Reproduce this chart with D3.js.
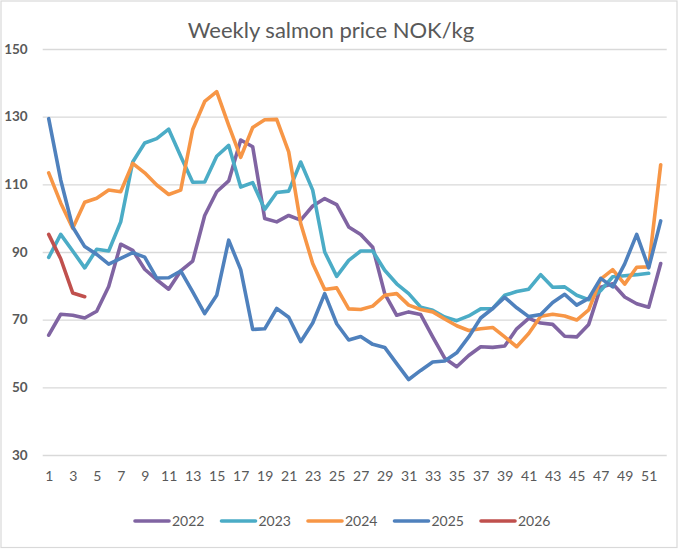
<!DOCTYPE html>
<html>
<head>
<meta charset="utf-8">
<script src="https://cdn.jsdelivr.net/npm/d3@7"></script>
<style>
  html, body { margin: 0; padding: 0; background: #fff; }
  svg { display: block; }
</style>
</head>
<body>
<svg id="chart" width="680" height="550"></svg>
<script>
// ---- Data ----
const title = "Weekly salmon price NOK/kg";
const weeks = [1,2,3,4,5,6,7,8,9,10,11,12,13,14,15,16,17,18,19,20,21,22,23,24,25,26,
               27,28,29,30,31,32,33,34,35,36,37,38,39,40,41,42,43,44,45,46,47,48,49,50,51,52];
const xTickLabels = [1,3,5,7,9,11,13,15,17,19,21,23,25,27,29,31,33,35,37,39,41,43,45,47,49,51];
const yTickLabels = [30,50,70,90,110,130,150];
const seriesNames = ["2022","2023","2024","2025","2026"];
const seriesColors = ["#8064A2","#4BACC6","#F79646","#4F81BD","#C0504D"];

const s2022 = [65.4,71.6,71.3,70.5,72.5,79.8,92.3,90.5,84.9,81.8,79.0,84.4,87.3,100.8,107.8,111.0,
               123.1,121.1,99.9,98.9,100.8,99.4,103.6,105.8,104.0,97.4,95.2,91.4,77.7,71.3,72.3,71.5,
               64.9,58.6,56.1,59.4,62.0,61.8,62.2,67.3,70.4,69.0,68.6,65.1,64.9,68.6,79.6,80.6,76.7,
               74.7,73.7,86.6];
const s2023 = [88.4,95.2,90.3,85.3,90.8,90.3,98.9,116.6,122.2,123.5,126.3,118.3,110.6,110.7,118.3,121.5,
               109.2,110.5,102.6,107.6,108.0,116.6,108.3,90.0,82.8,87.5,90.3,90.3,84.6,80.6,77.7,73.7,
               72.8,70.8,69.7,71.1,73.2,73.3,77.2,78.3,79.0,83.3,79.6,79.7,77.2,75.9,78.6,82.7,83.0,
               83.3,83.7];
const s2024 = [113.4,104.5,97.0,104.7,105.9,108.3,107.8,116.2,113.4,109.8,107.0,108.3,126.2,134.5,137.4,127.4,
               118.0,126.8,129.1,129.2,119.6,98.4,86.6,78.9,79.4,73.2,73.0,74.0,77.2,77.7,74.3,73.0,
               72.3,70.2,68.2,66.8,67.3,67.7,64.9,62.0,65.9,71.0,71.6,71.1,69.9,72.9,82.0,84.8,80.5,
               85.5,85.6,115.8];
const s2025 = [129.4,111.3,97.4,91.6,89.3,86.4,88.1,89.8,88.5,82.3,82.4,84.4,78.2,71.8,77.2,93.5,
               84.8,67.1,67.3,73.3,70.7,63.5,69.0,77.7,68.8,64.0,65.0,62.7,61.8,57.0,52.3,55.0,
               57.5,57.8,60.2,64.9,70.5,73.3,76.6,73.5,70.9,71.5,75.1,77.5,74.3,76.3,82.2,79.7,86.5,
               95.2,85.3,99.2];
const s2026 = [95.2,88.0,77.9,76.8];

const seriesValues = [s2022, s2023, s2024, s2025, s2026];

// ---- Layout ----
const svg = d3.select("#chart");
const W = 680, H = 550;
const plot = { left: 42.7, right: 666.7, top: 49, bottom: 455 };
const font = "Lato, 'Open Sans', 'DejaVu Sans', sans-serif";
const textColor = "#595959";

// outer border
svg.append("rect")
  .attr("x", 1).attr("y", 1)
  .attr("width", 676).attr("height", 546.5)
  .attr("fill", "#fff")
  .attr("stroke", "#d9d9d9")
  .attr("stroke-width", 1.2);

const x = d3.scalePoint().domain(weeks).range([plot.left, plot.right]).padding(0.5);
const y = d3.scaleLinear().domain([30, 150]).range([plot.bottom, plot.top]);

// gridlines + y labels
const yAxis = d3.axisLeft(y)
  .tickValues(yTickLabels)
  .tickSize(-(plot.right - plot.left))
  .tickPadding(15)
  .tickFormat(d3.format("d"));
const yg = svg.append("g")
  .attr("transform", `translate(${plot.left},0)`)
  .call(yAxis);
yg.select(".domain").remove();
yg.selectAll(".tick line").attr("stroke", "#d9d9d9").attr("stroke-width", 1.3);
yg.selectAll(".tick text")
  .attr("fill", textColor)
  .style("font-family", font)
  .style("font-size", "13.5px")
  .style("font-weight", "bold");

// x labels
const xAxis = d3.axisBottom(x)
  .tickValues(xTickLabels)
  .tickSize(0)
  .tickPadding(16);
const xg = svg.append("g")
  .attr("transform", `translate(0,${plot.bottom})`)
  .call(xAxis);
xg.select(".domain").remove();
xg.selectAll(".tick text")
  .attr("fill", textColor)
  .style("font-family", font)
  .style("font-size", "14px");

// lines
const line = d3.line()
  .x((d, i) => x(weeks[i]))
  .y(d => y(d));

seriesValues.forEach((vals, k) => {
  svg.append("path")
    .datum(vals)
    .attr("fill", "none")
    .attr("stroke", seriesColors[k])
    .attr("stroke-width", 3.6)
    .attr("stroke-linejoin", "round")
    .attr("stroke-linecap", "round")
    .attr("d", line);
});

// title
svg.append("text")
  .attr("x", 331).attr("y", 38)
  .attr("text-anchor", "middle")
  .attr("fill", textColor)
  .style("font-family", font)
  .style("font-size", "22px")
  .text(title);

// legend
const legendX = d3.scalePoint().domain(seriesNames).range([134, 480]);
const lg = svg.append("g");
seriesNames.forEach((name, k) => {
  const x0 = legendX(name);
  lg.append("line")
    .attr("x1", x0 + 1).attr("x2", x0 + 35)
    .attr("y1", 521).attr("y2", 521)
    .attr("stroke", seriesColors[k])
    .attr("stroke-width", 3.6)
    .attr("stroke-linecap", "round");
  lg.append("text")
    .attr("x", x0 + 38).attr("y", 526)
    .attr("fill", textColor)
    .style("font-family", font)
    .style("font-size", "14px")
    .text(name);
});
</script>
</body>
</html>
